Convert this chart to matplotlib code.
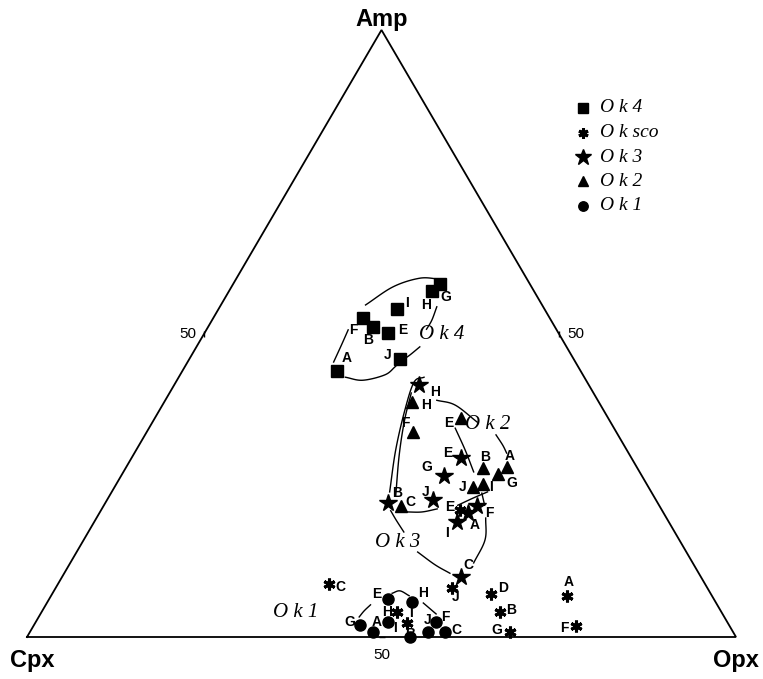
import numpy as np
import matplotlib
matplotlib.use("Agg")
import matplotlib.pyplot as plt

# ---- ternary compositions (Amp %, Opx %); Cpx = 100 - Amp - Opx ----
ok4_labels = ["A", "B", "E", "F", "G", "H", "I", "J"]
ok4_amp = [43.8, 51.1, 50.1, 52.6, 58.2, 57.0, 54.0, 45.8]
ok4_opx = [21.8, 23.2, 25.9, 21.1, 29.2, 28.6, 25.2, 29.7]

ok2_labels = ["A", "B", "C", "E", "F", "G", "H", "I", "J"]
ok2_amp = [28.0, 27.8, 21.6, 36.1, 33.8, 26.9, 38.7, 25.2, 24.7]
ok2_opx = [53.7, 50.4, 42.0, 43.2, 37.5, 53.0, 35.0, 51.7, 50.5]

ok3_labels = ["A", "B", "C", "E", "F", "G", "H", "I", "J"]
ok3_amp = [20.4, 22.1, 9.9, 29.5, 21.6, 26.5, 41.5, 18.9, 22.6]
ok3_opx = [52.0, 39.8, 56.3, 46.4, 52.7, 45.5, 34.5, 51.2, 46.0]

sco_labels = ["A", "B", "C", "D", "E", "F", "G", "H", "I", "J"]
sco_amp = [6.8, 4.1, 8.7, 7.1, 20.9, 1.8, 0.8, 4.1, 2.3, 8.1]
sco_opx = [72.8, 64.6, 38.2, 61.9, 50.6, 76.5, 67.7, 50.1, 52.5, 55.9]

ok1_labels = ["A", "B", "C", "E", "F", "G", "H", "I", "J"]
ok1_amp = [0.8, 0.0, 0.8, 6.3, 2.5, 2.0, 5.8, 2.5, 0.8]
ok1_opx = [48.4, 54.0, 58.6, 47.7, 56.5, 46.0, 51.4, 49.7, 56.2]

# ---- hand-drawn group envelopes, as (Amp %, Opx %) along each stroke ----
ok4_outline = [
    [(50.6, 20.0), (48.1, 20.3), (45.3, 20.6)],
    [(54.7, 20.4), (57.7, 22.8), (59.1, 25.8), (59.0, 28.5)],
    [(54.4, 30.6), (52.2, 31.0), (50.7, 31.0)],
    [(47.8, 31.5), (46.5, 30.8), (45.8, 30.3)],
    [(44.6, 29.7), (43.2, 28.9), (42.3, 26.2), (42.8, 23.5)],
]
ok2_outline = [
    [(40.2, 34.1), (35.7, 35.4), (30.0, 37.5), (23.2, 40.4)],
    [(39.0, 38.3), (38.2, 41.3), (35.4, 45.8)],
    [(33.3, 49.5), (31.6, 51.3), (30.3, 52.5)],
    [(20.6, 43.3), (20.6, 45.4), (21.1, 47.3)],
    [(21.7, 49.9), (22.9, 51.5), (23.9, 53.0)],
]
ok3_outline = [
    [(42.8, 34.6), (42.0, 33.6), (37.4, 34.6), (30.8, 36.6), (23.9, 39.2)],
    [(34.4, 43.2), (30.8, 46.4), (27.2, 49.4)],
    [(23.7, 52.3), (21.7, 53.7)],
    [(19.6, 54.9), (16.0, 56.6), (12.2, 56.9)],
    [(10.5, 54.4), (11.9, 51.6), (14.0, 48.1)],
    [(17.3, 44.5), (19.3, 42.4), (20.8, 40.9)],
]
ok1_outline = [
    [(3.3, 45.2), (4.3, 45.4), (5.3, 45.8)],
    [(7.2, 47.9), (7.6, 48.8), (6.8, 50.5)],
    [(5.6, 53.1), (3.8, 55.8)],
]

# group name positions (Amp %, Opx %)
group_names = ["O k 4", "O k 2", "O k 3", "O k 1"]
group_amp = [49.9, 35.0, 15.5, 4.1]
group_opx = [33.5, 47.5, 44.5, 35.9]

legend_names = ["O k 4", "O k sco", "O k 3", "O k 2", "O k 1"]

# ---- label offsets (pixels) for each point label ----
P = 0.72
ok4_off = {"A": (10, -13), "B": (-5, 13), "E": (15, -3), "F": (-10, 12),
           "G": (5, 13), "H": (-6, 14), "I": (10, -6), "J": (-12, -4)}
ok2_off = {"A": (3, -11), "B": (2, -11), "C": (9, -4), "E": (-13, 5),
           "F": (-7, -9), "G": (14, 9), "H": (14, 3), "I": (8, 3), "J": (-10, 0)}
ok3_off = {"A": (7, 12), "B": (10, -10), "C": (7, -12), "E": (-13, -5),
           "F": (12, 7), "G": (-17, -9), "H": (16, 7), "I": (-10, 11), "J": (-8, -8)}
sco_off = {"A": (1, -14), "B": (12, -2), "C": (12, 3), "D": (12, -6),
           "E": (-10, -3), "F": (-11, 2), "G": (-13, -2), "H": (-10, 0),
           "I": (4, -10), "J": (4, 9)}
ok1_off = {"A": (4, -10), "B": (0, -3), "C": (11, -2), "E": (-11, -5),
           "F": (9, -5), "G": (-10, -3), "H": (11, -9), "I": (7, 6), "J": (-1, -12)}

W, H = 763, 679
fig = plt.figure(figsize=(W / 100, H / 100), dpi=100)
fig.patch.set_facecolor("white")
# axes spans the triangle: Cpx (0,0), Opx (1,0), Amp (0.5,1)
ax = fig.add_axes([27 / W, 42 / H, 709 / W, 607 / H])
ax.set_xlim(0, 1)
ax.set_ylim(0, 1)
ax.axis("off")


def tern(amp, opx):
    a = np.asarray(amp, float) / 100.0
    o = np.asarray(opx, float) / 100.0
    return o + a / 2.0, a


def catmull(pts, n=20):
    pts = np.asarray(pts, float)
    if len(pts) < 3:
        return pts
    ext = np.vstack([2 * pts[0] - pts[1], pts, 2 * pts[-1] - pts[-2]])
    out = []
    for i in range(1, len(ext) - 2):
        p0, p1, p2, p3 = ext[i - 1], ext[i], ext[i + 1], ext[i + 2]
        t = np.linspace(0, 1, n, endpoint=False)[:, None]
        seg = 0.5 * ((2 * p1) + (-p0 + p2) * t + (2 * p0 - 5 * p1 + 4 * p2 - p3) * t ** 2
                     + (-p0 + 3 * p1 - 3 * p2 + p3) * t ** 3)
        out.append(seg)
    out.append(pts[-1:])
    return np.vstack(out)


# triangle frame
tri_x, tri_y = tern([0, 0, 100, 0], [0, 100, 0, 0])
ax.plot(tri_x, tri_y, color="black", lw=1.3, clip_on=False, solid_joinstyle="miter")

# 50 % ticks
vfont = dict(family="Liberation Sans", fontsize=11, color="black")
for (am, op), (dx, dy), ha in [((50, 0), (-6, 0), "right"), ((50, 50), (6, 0), "left"),
                               ((0, 50), (0, -13), "center")]:
    x, y = tern(am, op)
    ax.annotate("50", (x, y), xytext=(dx, dy), textcoords="offset points",
                ha=ha, va="center", annotation_clip=False, **vfont)
for am, op, ang in [(50, 0, 0), (50, 50, 0), (0, 50, 90)]:
    x, y = tern(am, op)
    ax.plot([x], [y], marker=(2, 0, ang), ms=5, mew=1, color="black", clip_on=False)

# vertex names (offsets in pixels)
vname = dict(family="Liberation Sans", fontsize=17, fontweight="bold", color="black")
for name, (am, op), (dx, dy), ha in [("Amp", (100, 0), (0, 4), "center"),
                                     ("Cpx", (0, 0), (-17, -30), "left"),
                                     ("Opx", (0, 100), (23, -30), "right")]:
    x, y = tern(am, op)
    ax.annotate(name, (x, y), xytext=(dx * P, dy * P), textcoords="offset points",
                ha=ha, va="baseline", annotation_clip=False, **vname)

# envelopes
for outline in (ok4_outline, ok2_outline, ok3_outline, ok1_outline):
    for stroke in outline:
        am = [p[0] for p in stroke]
        op = [p[1] for p in stroke]
        xs, ys = tern(am, op)
        c = catmull(np.column_stack([xs, ys]))
        ax.plot(c[:, 0], c[:, 1], color="black", lw=1.0, clip_on=False)

# series
series = [
    (ok4_labels, ok4_amp, ok4_opx, dict(marker="s", ms=8.5), ok4_off),
    (sco_labels, sco_amp, sco_opx, dict(marker=(6, 2, 0), ms=8.5, mew=2.2), sco_off),
    (ok3_labels, ok3_amp, ok3_opx, dict(marker="*", ms=13), ok3_off),
    (ok2_labels, ok2_amp, ok2_opx, dict(marker="^", ms=8.5), ok2_off),
    (ok1_labels, ok1_amp, ok1_opx, dict(marker="o", ms=8), ok1_off),
]
lfont = dict(family="Liberation Sans", fontsize=10, fontweight="bold", color="black")
for labs, am, op, style, offs in series:
    xs, ys = tern(am, op)
    ax.plot(xs, ys, ls="none", color="black", mec="black", mfc="black",
            clip_on=False, zorder=3, **style)
    for lab, x, y in zip(labs, xs, ys):
        dx, dy = offs[lab]
        ax.annotate(lab, (x, y), xytext=(dx * P, -dy * P), textcoords="offset points",
                    ha="center", va="center", annotation_clip=False, zorder=4, **lfont)

# group names on the envelopes
gfont = dict(family="Liberation Serif", fontsize=15, style="italic", color="black")
xs, ys = tern(group_amp, group_opx)
for name, x, y in zip(group_names, xs, ys):
    ax.text(x, y, name, ha="center", va="center", clip_on=False, **gfont)

# legend
leg_style = [s[3] for s in series]
leg_x_mark, leg_x_text = 583, 600
leg_y0, leg_dy = 108, 24.5
for i, (name, st) in enumerate(zip(legend_names, leg_style)):
    py = leg_y0 + i * leg_dy
    fx, fy = leg_x_mark / W, 1 - py / H
    st2 = dict(st)
    st2["ms"] = st2["ms"] * (0.85 if st2["marker"] != "*" else 0.9)
    fig.add_artist(plt.Line2D([fx], [fy], ls="none", color="black", mfc="black",
                              transform=fig.transFigure, **st2))
    fig.text(leg_x_text / W, fy, name, ha="left", va="center",
             family="Liberation Serif", fontsize=14, style="italic")

fig.savefig("out.png", dpi=100, facecolor="white")
